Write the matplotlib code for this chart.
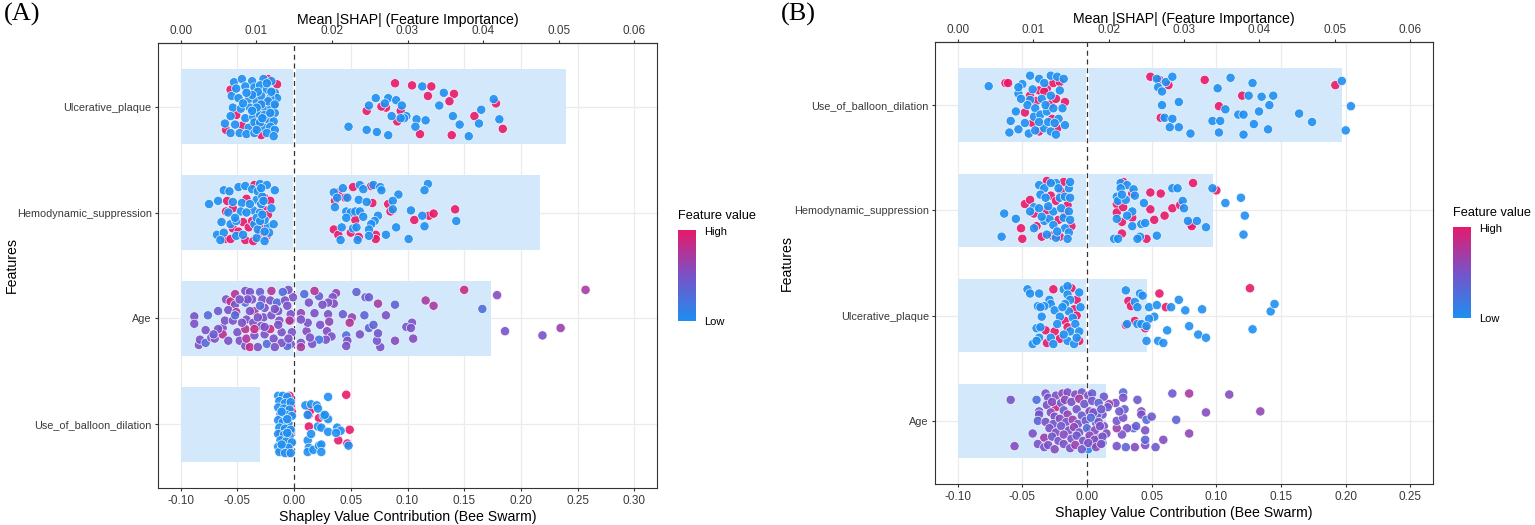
import matplotlib
matplotlib.use("Agg")
import matplotlib.pyplot as plt
import numpy as np
from matplotlib.colors import LinearSegmentedColormap

plt.rcParams['font.family'] = ['Liberation Sans', 'DejaVu Sans']

# ---------------- data, panel A ----------------
a_features = ["Ulcerative_plaque", "Hemodynamic_suppression", "Age", "Use_of_balloon_dilation"]
a_importance = [0.0510, 0.0475, 0.0411, 0.0105]   # mean |SHAP| (top axis)
a_xticks = [-0.10, -0.05, 0.00, 0.05, 0.10, 0.15, 0.20, 0.25, 0.30]

# (shap value, jitter) pairs; high = feature value 1, low = 0
a_ulc_high = [(0.089, 0.22), (0.104, 0.20), (0.121, 0.19), (0.118, 0.10), (0.141, 0.12), (0.137, 0.05),
              (0.178, 0.03), (0.159, -0.09), (0.184, -0.21), (0.139, -0.27), (0.111, -0.26), (0.091, -0.14),
              (0.094, -0.04), (0.081, -0.01), (0.077, 0.00), (0.064, -0.04),
              (-0.056, 0.16), (-0.060, -0.22), (-0.046, -0.18), (-0.037, 0.12), (-0.023, 0.26), (-0.015, 0.21),
              (-0.018, 0.01), (-0.027, -0.14), (-0.033, -0.19), (-0.023, -0.07), (-0.051, -0.08), (-0.026, 0.03),
              (-0.029, -0.27)]
a_ulc_low = [(0.113, 0.19), (0.132, 0.13), (0.176, 0.07), (0.165, -0.03), (0.128, 0.01), (0.072, 0.08),
             (0.083, 0.08), (0.090, 0.06), (0.066, 0.01), (0.080, 0.03), (0.095, 0.01), (0.086, -0.09),
             (0.099, -0.09), (0.097, -0.11), (0.108, -0.12), (0.116, -0.13), (0.107, -0.19), (0.140, -0.09),
             (0.146, -0.17), (0.163, -0.16), (0.181, -0.12), (0.154, -0.28), (0.083, -0.27), (0.073, -0.24),
             (0.064, -0.22), (0.048, -0.19), (0.094, -0.11),
             (-0.053, 0.23), (-0.046, 0.26), (-0.037, 0.24), (-0.027, 0.26), (-0.020, 0.24), (-0.055, 0.10),
             (-0.051, 0.17), (-0.043, 0.19), (-0.035, 0.18), (-0.030, 0.20), (-0.024, 0.16), (-0.017, 0.13),
             (-0.015, 0.08), (-0.049, 0.08), (-0.040, 0.07), (-0.033, 0.05), (-0.029, 0.10), (-0.021, 0.08),
             (-0.054, -0.01), (-0.047, -0.02), (-0.039, -0.01), (-0.032, -0.04), (-0.026, -0.03), (-0.020, -0.01),
             (-0.017, -0.06), (-0.056, -0.09), (-0.043, -0.11), (-0.036, -0.10), (-0.030, -0.08), (-0.023, -0.12),
             (-0.018, -0.14), (-0.061, -0.16), (-0.052, -0.17), (-0.040, -0.20), (-0.035, -0.15), (-0.027, -0.20),
             (-0.021, -0.19), (-0.017, -0.22), (-0.056, -0.25), (-0.048, -0.25), (-0.042, -0.26), (-0.035, -0.25),
             (-0.024, -0.25), (-0.018, -0.28), (-0.032, 0.14), (-0.037, 0.11), (-0.023, 0.05), (-0.029, 0.02),
             (-0.033, -0.01), (-0.026, -0.08), (-0.030, -0.15), (-0.037, -0.04), (-0.045, 0.03), (-0.020, 0.14),
             (-0.024, 0.22), (-0.042, 0.13), (-0.017, 0.02), (-0.021, -0.06), (-0.028, -0.11), (-0.033, -0.22)]

a_hemo_high = [(0.039, 0.19), (0.045, 0.14), (0.052, 0.24), (0.068, 0.25), (0.036, 0.11), (0.069, 0.09),
               (0.083, 0.08), (0.085, 0.01), (0.054, -0.07), (0.106, -0.07), (0.119, -0.03), (0.123, -0.01),
               (0.142, 0.03), (0.035, -0.16), (0.039, -0.21), (0.050, -0.19), (0.057, -0.23), (0.072, -0.21),
               (0.072, -0.25),
               (-0.059, 0.11), (-0.060, 0.01), (-0.054, 0.04), (-0.042, 0.13), (-0.035, 0.26), (-0.026, 0.14),
               (-0.021, 0.11), (-0.027, 0.03), (-0.023, -0.02), (-0.045, -0.09), (-0.040, -0.14), (-0.054, -0.15),
               (-0.049, -0.18), (-0.061, -0.25), (-0.056, -0.25), (-0.043, -0.26), (-0.036, -0.27), (-0.030, -0.19),
               (-0.024, -0.22), (-0.029, -0.12), (-0.037, -0.08)]
a_hemo_low = [(0.035, 0.19), (0.043, 0.23), (0.058, 0.26), (0.061, 0.22), (0.070, 0.26), (0.076, 0.24),
              (0.077, 0.21), (0.092, 0.17), (0.087, 0.11), (0.038, 0.14), (0.047, 0.14), (0.057, 0.12),
              (0.064, 0.10), (0.036, 0.05), (0.046, 0.01), (0.050, 0.00), (0.054, 0.01), (0.058, 0.01),
              (0.061, -0.04), (0.046, -0.05), (0.074, -0.03), (0.071, -0.08), (0.068, -0.11), (0.066, -0.16),
              (0.042, -0.14), (0.052, -0.15), (0.055, -0.14), (0.041, -0.26), (0.056, -0.26), (0.066, -0.22),
              (0.081, -0.21), (0.090, -0.14), (0.087, 0.03), (0.103, 0.02), (0.113, -0.03), (0.115, -0.13),
              (0.101, -0.25), (0.118, 0.27), (0.115, 0.21), (0.143, -0.08),
              (-0.075, 0.08), (-0.062, 0.21), (-0.057, 0.20), (-0.049, 0.24), (-0.043, 0.25), (-0.037, 0.22),
              (-0.030, 0.27), (-0.024, 0.26), (-0.017, 0.21), (-0.067, 0.11), (-0.054, 0.10), (-0.046, 0.09),
              (-0.033, 0.12), (-0.020, 0.04), (-0.058, 0.00), (-0.047, 0.01), (-0.036, 0.02), (-0.030, 0.00),
              (-0.064, -0.09), (-0.056, -0.11), (-0.051, -0.08), (-0.035, -0.11), (-0.023, -0.13), (-0.018, -0.11),
              (-0.068, -0.21), (-0.062, -0.19), (-0.051, -0.22), (-0.045, -0.21), (-0.033, -0.24), (-0.026, -0.27),
              (-0.022, -0.19), (-0.065, -0.26), (-0.032, 0.20), (-0.029, 0.08), (-0.033, -0.05), (-0.026, -0.07),
              (-0.039, 0.08), (-0.042, 0.00), (-0.052, -0.05), (-0.032, -0.16), (-0.028, 0.15), (-0.029, 0.23),
              (-0.027, 0.11), (-0.030, -0.08), (-0.026, -0.18), (-0.028, -0.02)]

# (shap value, jitter, feature value 0..1)
a_age = [(0.150, 0.27, 0.85), (0.179, 0.22, 0.55), (0.257, 0.27, 0.70), (0.166, 0.09, 0.25), (0.186, -0.12, 0.50),
         (0.219, -0.16, 0.50), (0.235, -0.09, 0.65), (0.116, 0.17, 0.70), (0.123, 0.12, 0.70), (0.089, 0.13, 0.35),
         (0.074, 0.14, 0.70), (0.055, 0.25, 0.35), (0.063, 0.20, 0.40), (0.066, 0.20, 0.40), (0.081, 0.03, 0.50),
         (0.104, -0.04, 0.50), (0.099, -0.08, 0.45), (0.103, -0.09, 0.50), (0.105, -0.19, 0.55), (0.089, -0.21, 0.55),
         (0.076, -0.27, 0.50), (0.073, -0.21, 0.45), (0.074, -0.14, 0.45), (0.066, -0.09, 0.35), (0.070, -0.06, 0.35),
         (0.062, 0.03, 0.35), (0.058, -0.15, 0.50), (0.051, 0.01, 0.60), (0.049, -0.04, 0.75), (0.043, 0.04, 0.40),
         (0.046, -0.16, 0.30), (0.047, -0.21, 0.50), (0.046, -0.26, 0.50), (0.037, 0.24, 0.60), (0.034, 0.20, 0.50),
         (0.035, 0.14, 0.55), (0.030, 0.15, 0.50), (0.025, 0.13, 0.50), (0.030, 0.04, 0.50), (0.031, -0.03, 0.60),
         (0.023, -0.06, 0.50), (0.029, -0.12, 0.55), (0.033, -0.17, 0.50), (0.028, -0.20, 0.50), (0.022, -0.20, 0.20),
         (0.016, -0.24, 0.50), (0.011, -0.12, 0.55), (0.014, -0.18, 0.50), (0.012, -0.04, 0.50), (0.018, 0.05, 0.50),
         (0.013, 0.15, 0.50), (0.022, 0.21, 0.40), (0.018, 0.26, 0.75), (0.009, 0.23, 0.30), (0.006, 0.05, 0.60),
         (0.006, -0.01, 0.50), (0.006, -0.23, 0.50), (0.006, -0.27, 0.70), (-0.003, -0.24, 0.50), (-0.006, -0.26, 0.30),
         (-0.002, -0.13, 0.50), (-0.003, -0.02, 0.50), (-0.003, 0.04, 0.50), (-0.001, 0.20, 0.50), (-0.005, 0.27, 0.50),
         (-0.088, 0.02, 0.50), (-0.088, -0.05, 0.50), (-0.084, -0.25, 0.50), (-0.083, -0.20, 0.50), (-0.078, -0.23, 0.30),
         (-0.076, 0.03, 0.30), (-0.078, -0.11, 0.50), (-0.073, -0.18, 0.50), (-0.070, -0.19, 0.50), (-0.067, 0.07, 0.40),
         (-0.063, -0.09, 0.50), (-0.063, -0.15, 0.80), (-0.061, -0.02, 0.50), (-0.060, 0.18, 0.50), (-0.056, 0.16, 0.85),
         (-0.052, 0.23, 0.75), (-0.052, 0.13, 0.50), (-0.058, 0.08, 0.50), (-0.051, 0.06, 0.75), (-0.054, -0.02, 0.50),
         (-0.050, -0.13, 0.50), (-0.048, -0.21, 0.50), (-0.043, -0.26, 0.50), (-0.039, -0.27, 0.85), (-0.042, -0.19, 0.75),
         (-0.043, -0.10, 0.75), (-0.042, -0.01, 0.50), (-0.043, 0.15, 0.30), (-0.043, 0.26, 0.50), (-0.039, 0.25, 0.50),
         (-0.037, 0.18, 0.50), (-0.035, 0.07, 0.75), (-0.036, -0.04, 0.50), (-0.035, -0.16, 0.50), (-0.032, -0.27, 0.50),
         (-0.030, 0.25, 0.40), (-0.028, 0.18, 0.50), (-0.026, 0.10, 0.50), (-0.027, 0.01, 0.50), (-0.029, -0.07, 0.50),
         (-0.026, -0.15, 0.50), (-0.024, -0.24, 0.30), (-0.020, 0.26, 0.75), (-0.021, 0.17, 0.50), (-0.020, 0.03, 0.50),
         (-0.021, -0.10, 0.85), (-0.018, -0.19, 0.50), (-0.015, 0.15, 0.30), (-0.014, 0.07, 0.50), (-0.013, -0.02, 0.50),
         (-0.011, -0.13, 0.50), (-0.010, 0.25, 0.30), (-0.008, 0.17, 0.50), (-0.011, -0.23, 0.50), (-0.017, -0.27, 0.50),
         (-0.004, -0.02, 0.75), (-0.014, -0.06, 0.50), (-0.032, 0.01, 0.50), (-0.039, 0.07, 0.50), (-0.046, -0.04, 0.50),
         (-0.052, 0.03, 0.30), (-0.058, -0.21, 0.50), (-0.067, -0.10, 0.50), (-0.071, -0.15, 0.40), (-0.035, -0.10, 0.85),
         (-0.026, -0.08, 0.50), (-0.017, 0.09, 0.50), (-0.030, 0.12, 0.30), (-0.041, 0.18, 0.50), (-0.048, 0.18, 0.50),
         (-0.006, 0.12, 0.50), (-0.005, -0.19, 0.50)]

a_bal_high = [(0.046, 0.28), (0.014, 0.12), (0.013, 0.09), (0.022, 0.06), (0.028, 0.08), (0.013, -0.02),
              (0.049, -0.05), (0.039, -0.15), (0.047, -0.18), (0.014, 0.13),
              (-0.004, 0.27), (-0.008, 0.24), (-0.003, 0.18), (-0.012, 0.07), (-0.005, -0.01), (-0.003, -0.07),
              (-0.012, -0.08), (-0.005, -0.14), (-0.004, -0.20), (-0.012, -0.24), (-0.005, -0.27), (-0.010, -0.13),
              (-0.002, 0.12)]
a_bal_low = [(0.030, 0.26), (0.010, 0.18), (0.015, 0.19), (0.020, 0.18), (0.021, 0.15), (0.012, 0.09),
             (0.026, 0.08), (0.030, 0.05), (0.021, -0.02), (0.024, -0.03), (0.030, -0.07), (0.038, -0.03),
             (0.041, -0.06), (0.037, -0.08), (0.012, -0.15), (0.013, -0.22), (0.012, -0.26), (0.017, -0.24),
             (0.022, -0.20), (0.024, -0.19), (0.024, -0.26), (0.048, -0.20), (0.015, -0.09), (0.027, 0.09),
             (-0.014, 0.27), (-0.010, 0.27), (-0.006, 0.26), (-0.013, 0.22), (-0.008, 0.20), (-0.003, 0.21),
             (-0.014, 0.16), (-0.009, 0.15), (-0.004, 0.14), (-0.012, 0.10), (-0.007, 0.09), (-0.002, 0.08),
             (-0.014, 0.04), (-0.010, 0.02), (-0.005, 0.01), (-0.013, -0.03), (-0.008, -0.04), (-0.003, -0.05),
             (-0.014, -0.09), (-0.009, -0.10), (-0.004, -0.11), (-0.012, -0.15), (-0.007, -0.16), (-0.002, -0.17),
             (-0.014, -0.21), (-0.010, -0.22), (-0.005, -0.22), (-0.013, -0.26), (-0.008, -0.27), (-0.003, -0.27),
             (-0.011, 0.12), (-0.006, -0.08), (-0.011, -0.19), (-0.006, 0.05)]

# ---------------- data, panel B ----------------
b_features = ["Use_of_balloon_dilation", "Hemodynamic_suppression", "Ulcerative_plaque", "Age"]
b_importance = [0.0509, 0.0338, 0.0251, 0.0197]
b_xticks = [-0.10, -0.05, 0.00, 0.05, 0.10, 0.15, 0.20, 0.25]

b_bal_high = [(0.049, 0.27), (0.056, 0.24), (0.063, 0.19), (0.091, 0.24), (0.120, 0.09), (0.102, -0.01),
              (0.057, -0.12), (0.192, 0.19),
              (-0.063, 0.21), (-0.061, 0.21), (-0.048, -0.07), (-0.044, 0.09), (-0.037, 0.14), (-0.031, 0.16),
              (-0.026, 0.21), (-0.021, 0.22), (-0.017, 0.03), (-0.028, 0.01), (-0.024, 0.06), (-0.027, -0.13),
              (-0.042, -0.17), (-0.037, -0.25), (-0.023, -0.22), (-0.039, 0.04), (-0.033, 0.13)]
b_bal_low = [(0.054, 0.25), (0.061, 0.22), (0.066, 0.27), (0.055, 0.17), (0.058, 0.13), (0.071, 0.03),
             (0.058, 0.00), (0.060, -0.12), (0.066, -0.13), (0.064, -0.21), (0.071, -0.21), (0.080, -0.27),
             (0.101, 0.16), (0.111, 0.26), (0.107, -0.04), (0.117, -0.09), (0.121, -0.09), (0.097, -0.15),
             (0.103, -0.15), (0.102, -0.26), (0.121, -0.28), (0.125, 0.09), (0.128, 0.21), (0.135, 0.08),
             (0.144, 0.09), (0.141, 0.00), (0.133, -0.06), (0.129, -0.18), (0.140, -0.23), (0.164, -0.08),
             (0.174, -0.16), (0.197, 0.23), (0.204, -0.01), (0.200, -0.24),
             (-0.076, 0.18), (-0.059, -0.15), (-0.060, -0.26), (-0.055, -0.06), (-0.053, -0.23), (-0.053, 0.11),
             (-0.050, 0.20), (-0.051, 0.06), (-0.044, 0.28), (-0.037, 0.25), (-0.028, 0.28), (-0.023, 0.27),
             (-0.018, 0.25), (-0.044, 0.05), (-0.046, 0.00), (-0.040, -0.03), (-0.035, 0.06), (-0.028, 0.09),
             (-0.019, -0.03), (-0.041, -0.11), (-0.036, -0.09), (-0.031, -0.06), (-0.022, -0.13), (-0.017, -0.19),
             (-0.045, -0.27), (-0.040, -0.24), (-0.033, -0.22), (-0.028, -0.25), (-0.024, -0.28), (-0.053, 0.17),
             (-0.033, 0.21), (-0.032, 0.00), (-0.026, -0.03), (-0.021, 0.14), (-0.042, 0.15), (-0.048, -0.17),
             (-0.030, -0.16), (-0.037, -0.16), (-0.025, -0.17)]

b_hemo_high = [(0.028, 0.27), (0.035, 0.16), (0.049, 0.17), (0.057, 0.16), (0.082, 0.26), (0.100, 0.19),
               (0.023, 0.06), (0.023, -0.02), (0.028, 0.03), (0.049, 0.01), (0.066, 0.02), (0.060, -0.05),
               (0.072, 0.05), (0.035, -0.07), (0.027, -0.11), (0.052, -0.09), (0.080, -0.13), (0.081, -0.15),
               (0.027, -0.22), (0.046, -0.27),
               (-0.051, -0.17), (-0.050, -0.27), (-0.048, 0.06), (-0.044, 0.10), (-0.041, -0.03), (-0.039, -0.15),
               (-0.035, -0.25), (-0.031, 0.28), (-0.031, 0.00), (-0.028, 0.14), (-0.024, 0.09), (-0.022, -0.09),
               (-0.021, -0.25), (-0.018, 0.27), (-0.015, 0.05), (-0.017, -0.03), (-0.012, -0.15), (-0.020, 0.18),
               (-0.027, -0.24)]
b_hemo_low = [(0.026, 0.26), (0.031, 0.24), (0.026, 0.21), (0.036, 0.20), (0.037, 0.14), (0.023, 0.13),
              (0.024, 0.09), (0.030, 0.10), (0.066, 0.21), (0.070, 0.21), (0.097, 0.21), (0.074, 0.09),
              (0.044, 0.07), (0.035, -0.01), (0.031, -0.05), (0.023, -0.08), (0.035, -0.15), (0.042, -0.13),
              (0.045, -0.12), (0.054, -0.24), (0.041, -0.25), (0.039, -0.27), (0.021, -0.27), (0.024, -0.27),
              (0.075, 0.02), (0.078, -0.10), (0.085, -0.10), (0.092, -0.16), (0.107, 0.07), (0.119, 0.12),
              (0.122, -0.05), (0.121, -0.23), (0.027, 0.15),
              (-0.064, -0.03), (-0.055, -0.08), (-0.066, -0.25), (-0.041, 0.03), (-0.037, 0.24), (-0.033, 0.21),
              (-0.036, 0.15), (-0.037, 0.02), (-0.033, -0.10), (-0.041, -0.17), (-0.031, -0.23), (-0.029, -0.08),
              (-0.026, -0.01), (-0.024, 0.26), (-0.022, 0.21), (-0.021, 0.12), (-0.017, 0.13), (-0.014, 0.21),
              (-0.013, 0.12), (-0.018, -0.07), (-0.017, -0.17), (-0.014, -0.21), (-0.015, -0.27), (-0.024, -0.26),
              (-0.030, 0.04), (-0.026, -0.14), (-0.020, 0.02), (-0.014, -0.01), (-0.013, -0.09), (-0.044, -0.01),
              (-0.035, -0.06), (-0.023, -0.20), (-0.032, 0.12), (-0.028, 0.26), (-0.013, 0.27)]

b_ulc_high = [(0.032, 0.14), (0.034, 0.09), (0.037, -0.05), (0.045, -0.12), (0.056, 0.21), (0.061, 0.08),
              (0.126, 0.26), (0.030, -0.09),
              (-0.026, 0.25), (-0.012, 0.26), (-0.008, 0.15), (-0.010, 0.06), (-0.008, 0.00), (-0.017, -0.05),
              (-0.032, -0.14), (-0.025, -0.15), (-0.021, -0.22), (-0.031, -0.26), (-0.006, -0.24), (-0.015, -0.11)]
b_ulc_low = [(0.030, 0.24), (0.041, 0.21), (0.043, 0.19), (0.037, 0.13), (0.039, 0.08), (0.048, 0.08),
             (0.054, 0.10), (0.065, 0.08), (0.071, 0.15), (0.076, 0.05), (0.089, 0.06), (0.052, -0.01),
             (0.048, -0.03), (0.039, -0.08), (0.042, -0.08), (0.046, -0.10), (0.062, -0.14), (0.079, -0.10),
             (0.086, -0.18), (0.092, -0.21), (0.046, -0.24), (0.055, -0.24), (0.059, -0.26), (0.128, -0.13),
             (0.142, 0.04), (0.145, 0.11), (0.031, -0.08),
             (-0.046, 0.25), (-0.044, 0.21), (-0.037, 0.21), (-0.029, 0.15), (-0.028, 0.11), (-0.033, 0.09),
             (-0.038, 0.09), (-0.036, 0.08), (-0.025, 0.05), (-0.021, -0.01), (-0.035, -0.01), (-0.039, -0.12),
             (-0.036, -0.11), (-0.037, -0.21), (-0.042, -0.27), (-0.039, -0.24), (-0.028, -0.21), (-0.026, -0.27),
             (-0.018, 0.25), (-0.015, 0.28), (-0.015, 0.20), (-0.013, 0.15), (-0.017, 0.11), (-0.014, 0.04),
             (-0.011, -0.02), (-0.009, -0.08), (-0.013, -0.15), (-0.015, -0.24), (-0.010, -0.27), (-0.006, -0.15),
             (-0.005, 0.08), (-0.006, 0.22), (-0.018, -0.18), (-0.023, -0.08), (-0.019, 0.08), (-0.008, -0.21)]

b_age = [(0.066, 0.26, 0.45), (0.079, 0.26, 0.70), (0.110, 0.25, 0.55), (0.134, 0.09, 0.60), (0.092, 0.08, 0.55),
         (0.069, 0.01, 0.35), (0.079, -0.12, 0.60), (0.059, -0.18, 0.55), (0.053, -0.25, 0.45), (0.045, -0.23, 0.50),
         (0.037, -0.25, 0.55), (0.030, -0.25, 0.35), (0.023, -0.24, 0.50), (0.045, -0.18, 0.35), (0.045, -0.09, 0.50),
         (0.036, -0.07, 0.30), (0.038, -0.05, 0.40), (0.031, -0.07, 0.50), (0.027, -0.13, 0.50), (0.023, -0.07, 0.65),
         (0.023, 0.00, 0.45), (0.028, 0.03, 0.50), (0.029, 0.11, 0.40), (0.025, 0.09, 0.45), (0.022, 0.17, 0.50),
         (0.028, 0.27, 0.30), (0.028, 0.22, 0.50), (0.039, 0.20, 0.45), (0.042, 0.09, 0.55), (0.042, 0.06, 0.50),
         (0.046, 0.01, 0.30), (0.050, 0.04, 0.45), (0.017, 0.16, 0.65), (0.016, 0.13, 0.40), (0.013, 0.23, 0.45),
         (0.012, 0.06, 0.50), (0.013, -0.05, 0.50), (0.015, -0.12, 0.55), (0.012, -0.21, 0.30), (0.008, 0.06, 0.30),
         (0.007, -0.02, 0.40), (0.009, -0.16, 0.70), (0.005, -0.22, 0.75), (0.001, -0.27, 0.05),
         (-0.059, 0.20, 0.50), (-0.056, -0.24, 0.55), (-0.039, 0.20, 0.25), (-0.032, 0.26, 0.50), (-0.024, 0.13, 0.90),
         (-0.037, 0.09, 0.50), (-0.037, 0.06, 0.45), (-0.038, 0.00, 0.35), (-0.042, -0.12, 0.50), (-0.038, -0.22, 0.50),
         (-0.033, -0.16, 0.65), (-0.033, -0.25, 0.50),
         (-0.030, 0.22, 0.45), (-0.024, 0.24, 0.50), (-0.019, 0.26, 0.60), (-0.015, 0.27, 0.50), (-0.009, 0.25, 0.55),
         (-0.004, 0.27, 0.45), (0.001, 0.24, 0.50), (0.004, 0.26, 0.40), (-0.031, 0.15, 0.50), (-0.027, 0.18, 0.55),
         (-0.020, 0.17, 0.40), (-0.017, 0.20, 0.60), (-0.012, 0.18, 0.50), (-0.006, 0.21, 0.70), (-0.002, 0.16, 0.45),
         (0.004, 0.19, 0.50), (0.009, 0.17, 0.35), (-0.028, 0.08, 0.55), (-0.025, 0.04, 0.50), (-0.018, 0.10, 0.45),
         (-0.015, 0.06, 0.60), (-0.008, 0.11, 0.50), (-0.004, 0.05, 0.40), (0.002, 0.09, 0.55), (0.005, 0.08, 0.50),
         (0.011, 0.11, 0.45), (-0.032, -0.01, 0.50), (-0.026, -0.03, 0.45), (-0.021, 0.02, 0.55), (-0.016, -0.01, 0.50),
         (-0.011, 0.01, 0.65), (-0.007, -0.03, 0.50), (-0.001, 0.00, 0.45), (0.003, 0.03, 0.30), (0.009, -0.01, 0.50),
         (-0.029, -0.07, 0.50), (-0.024, -0.11, 0.55), (-0.020, -0.05, 0.45), (-0.014, -0.09, 0.50), (-0.010, -0.06, 0.60),
         (-0.006, -0.11, 0.50), (0.000, -0.07, 0.30), (0.006, -0.09, 0.55), (0.010, -0.05, 0.50), (-0.027, -0.15, 0.45),
         (-0.022, -0.19, 0.50), (-0.018, -0.13, 0.55), (-0.012, -0.17, 0.50), (-0.008, -0.14, 0.45), (-0.003, -0.19, 0.50),
         (0.002, -0.14, 0.60), (0.006, -0.18, 0.50), (0.012, -0.15, 0.45), (-0.030, -0.23, 0.50), (-0.025, -0.27, 0.55),
         (-0.018, -0.22, 0.50), (-0.013, -0.26, 0.50), (-0.009, -0.23, 0.65), (-0.004, -0.27, 0.45), (0.001, -0.21, 0.50),
         (0.007, -0.25, 0.55), (0.011, -0.22, 0.50)]

# ---------------- styling ----------------
imp_ticks = [0.00, 0.01, 0.02, 0.03, 0.04, 0.05, 0.06]
cmap = LinearSegmentedColormap.from_list("fv", ["#1E8FF2", "#7A52C8", "#E8196A"])
bar_color = "#D3E8FA"
dark = "#333333"
tick_grey = "#3A3A3A"


def binary(high, low):
    return [(x, j, 1.0) for x, j in high] + [(x, j, 0.0) for x, j in low]


a_swarms = [binary(a_ulc_high, a_ulc_low), binary(a_hemo_high, a_hemo_low),
            a_age, binary(a_bal_high, a_bal_low)]
b_swarms = [binary(b_bal_high, b_bal_low), binary(b_hemo_high, b_hemo_low),
            binary(b_ulc_high, b_ulc_low), b_age]


def draw_panel(ax, features, importance, swarms, xticks):
    n = len(features)
    ypos = np.arange(n, 0, -1)
    lo, hi = xticks[0], xticks[-1]
    pad = 0.05 * (hi - lo)
    scale = (hi - lo) / imp_ticks[-1]
    ax.set_xlim(lo - pad, hi + pad)
    ax.set_ylim(0.4, n + 0.6)
    ax.set_axisbelow(True)
    ax.grid(True, color="#EBEBEB", lw=0.9)

    ax.barh(ypos, np.array(importance) * scale, left=lo, height=0.7, color=bar_color, zorder=1)
    ax.axvline(0, color="white", lw=2.2, zorder=2)
    ax.axvline(0, color=dark, lw=0.9, ls=(0, (4, 3)), zorder=3)

    for y, pts in zip(ypos, swarms):
        xs = [p[0] for p in pts]
        ys = [y + p[1] for p in pts]
        cs = [p[2] for p in pts]
        ax.scatter(xs, ys, c=cs, cmap=cmap, vmin=0, vmax=1, s=44, alpha=0.9,
                   edgecolors="white", linewidths=0.5, zorder=4)

    ax.set_xticks(xticks)
    ax.set_xticklabels([f"{t:.2f}" for t in xticks])
    ax.set_yticks(ypos)
    ax.set_yticklabels(features)
    ax.tick_params(axis="x", length=2.5, width=0.8, color=dark, labelcolor=tick_grey,
                   labelsize=8.5, pad=2.5)
    ax.tick_params(axis="y", length=2.5, width=0.8, color=dark, labelcolor=tick_grey,
                   labelsize=7.8, pad=2)
    for s in ax.spines.values():
        s.set_color(dark)
        s.set_linewidth(0.8)
    ax.set_xlabel("Shapley Value Contribution (Bee Swarm)", fontsize=10.2, color="black", labelpad=2)

    sec = ax.secondary_xaxis("top", functions=(lambda v: (v - lo) / scale, lambda t: t * scale + lo))
    sec.set_xticks(imp_ticks)
    sec.set_xticklabels([f"{t:.2f}" for t in imp_ticks])
    sec.tick_params(length=2.5, width=0.8, color=dark, labelcolor=tick_grey, labelsize=8.5, pad=1.5)
    sec.spines["top"].set_color(dark)
    sec.spines["top"].set_linewidth(0.8)
    sec.set_xlabel("Mean |SHAP| (Feature Importance)", fontsize=10.2, color="black", labelpad=1)


def draw_legend(fig, x, y_bottom, w, h):
    cax = fig.add_axes([x, y_bottom, w, h])
    grad = np.linspace(0, 1, 256).reshape(-1, 1)
    cax.imshow(grad, cmap=cmap, aspect="auto", origin="lower")
    cax.set_xticks([])
    cax.set_yticks([])
    for s in cax.spines.values():
        s.set_visible(False)
    fig.text(x, y_bottom + h + 0.026, "Feature value", fontsize=9.2, ha="left", va="center")
    fig.text(x + w + 0.005, y_bottom + h - 0.004, "High", fontsize=8, ha="left", va="center")
    fig.text(x + w + 0.005, y_bottom - 0.002, "Low", fontsize=8, ha="left", va="center")


W, H = 1535, 525
fig = plt.figure(figsize=(W / 100, H / 100), dpi=100)
ax_a = fig.add_axes([158 / W, 1 - 488 / H, 499 / W, 445 / H])
ax_b = fig.add_axes([935 / W, 1 - 484 / H, 498 / W, 442 / H])

draw_panel(ax_a, a_features, a_importance, a_swarms, a_xticks)
draw_panel(ax_b, b_features, b_importance, b_swarms, b_xticks)

draw_legend(fig, 678 / W, 1 - 321 / H, 18 / W, 91 / H)
draw_legend(fig, 1453 / W, 1 - 318 / H, 18 / W, 91 / H)

fig.text(12 / W, 1 - 265 / H, "Features", fontsize=10.2, rotation=90, ha="center", va="center")
fig.text(787 / W, 1 - 263 / H, "Features", fontsize=10.2, rotation=90, ha="center", va="center")

fig.text(4 / W, 1 - 3 / H, "(A)", fontsize=19, family="Liberation Serif", ha="left", va="top")
fig.text(781 / W, 1 - 3 / H, "(B)", fontsize=19, family="Liberation Serif", ha="left", va="top")

fig.savefig("out.png", dpi=100)
